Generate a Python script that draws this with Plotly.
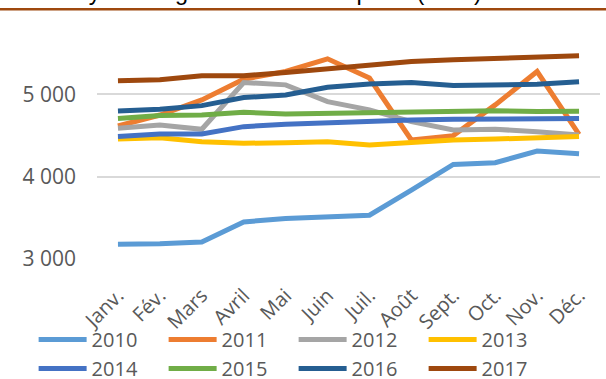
import plotly.graph_objects as go

# Prix moyen mensuel du riz importé à Conakry (GNF / kg)
mois = ["Janv.", "Fév.", "Mars", "Avril", "Mai", "Juin",
        "Juil.", "Août", "Sept.", "Oct.", "Nov.", "Déc."]

prix_2010 = [3179, 3185, 3207, 3450, 3490, 3511, 3532, 3836, 4148, 4168, 4310, 4277]
prix_2011 = [4614, 4747, 4930, 5182, 5275, 5429, 5195, 4444, 4497, 4870, 5275, 4513]
prix_2012 = [4586, 4627, 4574, 5141, 5113, 4910, 4809, 4667, 4566, 4574, 4545, 4505]
prix_2013 = [4456, 4472, 4423, 4404, 4412, 4423, 4383, 4412, 4444, 4456, 4465, 4485]
prix_2014 = [4485, 4517, 4517, 4606, 4635, 4655, 4675, 4687, 4695, 4700, 4700, 4704]
prix_2015 = [4704, 4740, 4748, 4781, 4760, 4769, 4777, 4789, 4800, 4800, 4789, 4793]
prix_2016 = [4797, 4817, 4861, 4959, 4991, 5085, 5122, 5141, 5105, 5113, 5121, 5150]
prix_2017 = [5162, 5174, 5223, 5223, 5264, 5310, 5345, 5397, 5417, 5437, 5450, 5466]

annees = ["2010", "2011", "2012", "2013", "2014", "2015", "2016", "2017"]
series = [prix_2010, prix_2011, prix_2012, prix_2013,
          prix_2014, prix_2015, prix_2016, prix_2017]
couleurs = ["#5B9BD5", "#ED7D31", "#A5A5A5", "#FFC000",
            "#4472C4", "#70AD47", "#255E91", "#9E480E"]

texte_gris = "#595959"

fig = go.Figure()
for annee, valeurs, couleur in zip(annees, series, couleurs):
    fig.add_trace(go.Scatter(
        x=mois, y=valeurs, name=annee, mode="lines",
        line=dict(color=couleur, width=5, shape="linear"),
    ))

fig.update_layout(
    width=606, height=379,
    margin=dict(l=97, r=6, t=20, b=120, pad=0, autoexpand=False),
    paper_bgcolor="white", plot_bgcolor="white",
    font=dict(family="Open Sans", color=texte_gris, size=20),
    showlegend=True,
    legend=dict(
        orientation="h", x=-0.126, xanchor="left", y=-0.255, yanchor="top",
        entrywidth=67, entrywidthmode="pixels", itemwidth=48,
        font=dict(size=20, color=texte_gris),
        bgcolor="rgba(0,0,0,0)", tracegroupgap=0,
    ),
    xaxis=dict(
        type="category", range=[-0.5, 11.5], showgrid=False, zeroline=False,
        showline=False, ticks="", tickangle=-45, automargin=False,
        ticklabelstandoff=20,
        tickfont=dict(size=20, color=texte_gris),
    ),
    yaxis=dict(
        range=[3000, 5900], tick0=3000, dtick=1000, tickformat=",d",
        showgrid=True, gridcolor="#D9D9D9", gridwidth=1.5, automargin=False,
        zeroline=False, showline=False, ticks="", ticklabelstandoff=20,
        tickfont=dict(size=21, color=texte_gris),
    ),
    separators=", ",
)

# Titre (partiellement hors cadre) et filet de séparation
fig.add_annotation(
    text="Conakry du kilogramme de riz importé (GNF)",
    xref="paper", yref="paper", x=-0.17, xanchor="left",
    y=1.118, yanchor="middle", showarrow=False,
    font=dict(family="Liberation Sans", size=23.5, color="#000000"),
)
fig.add_shape(
    type="line", xref="paper", yref="paper",
    x0=-0.2, x1=1.02, y0=1.045, y1=1.045,
    line=dict(color="#9E480E", width=2.3),
)

fig.write_html("out.html")
